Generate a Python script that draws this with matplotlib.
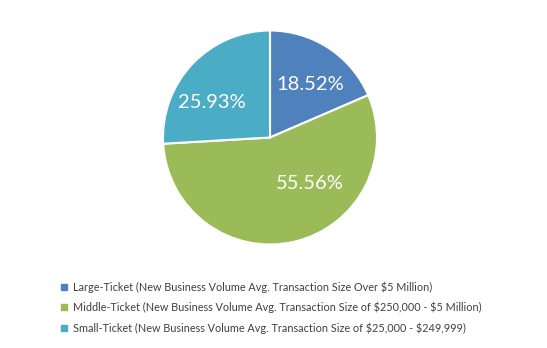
import matplotlib
matplotlib.use("Agg")
import matplotlib.pyplot as plt
from matplotlib.lines import Line2D

categories = [
    "Large-Ticket (New Business Volume Avg. Transaction Size Over $5 Million)",
    "Middle-Ticket (New Business Volume Avg. Transaction Size of $250,000 - $5 Million)",
    "Small-Ticket (New Business Volume Avg. Transaction Size of $25,000 - $249,999)",
]
values = [18.52, 55.56, 25.93]
colors = ["#4F81BD", "#9BBB59", "#4BACC6"]
label_pos = [(0.38, 0.50), (0.37, -0.43), (-0.54, 0.33)]

plt.rcParams['font.family'] = ['Lato', 'DejaVu Sans']

fig = plt.figure(figsize=(5.47, 3.48), dpi=100)
cx, cy, r = 270, 137.5, 107
ax = fig.add_axes([(cx - r) / 547, 1 - (cy + r) / 348, 2 * r / 547, 2 * r / 348])
wedges, _ = ax.pie(values, colors=colors, startangle=90, counterclock=False,
                   wedgeprops=dict(edgecolor="white", linewidth=1.5))
for v, (x, y) in zip(values, label_pos):
    ax.text(x, y, f"{v:.2f}%", ha="center", va="center", color="white", fontsize=14.5)
ax.set_xlim(-1, 1)
ax.set_ylim(-1, 1)
ax.set_aspect("equal")
ax.axis("off")

handles = [Line2D([], [], marker="s", linestyle="none", markersize=4.5,
                  markerfacecolor=c, markeredgecolor=c) for c in colors]
leg = fig.legend(handles, [c.replace("$", r"\$") for c in categories], loc="upper left",
                 bbox_to_anchor=(55 / 547, 1 - 277 / 348),
                 frameon=False, fontsize=7.8, handletextpad=0.45, labelspacing=0.82,
                 handlelength=0.8, labelcolor="#404040", borderaxespad=0)

fig.savefig("out.png", dpi=100, facecolor="white")
